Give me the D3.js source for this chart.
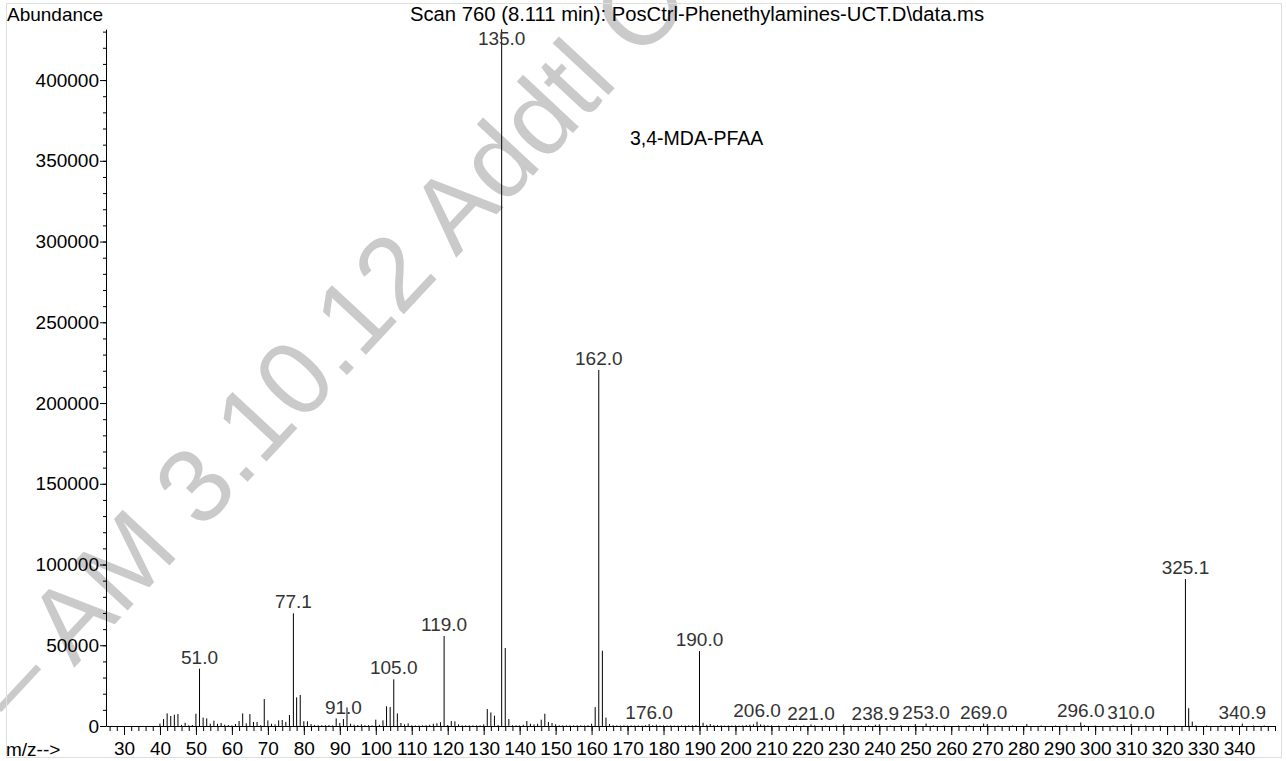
<!DOCTYPE html>
<html><head><meta charset="utf-8">
<script src="https://cdn.jsdelivr.net/npm/d3@7"></script>
<style>
body{margin:0;background:#fff;}
svg{display:block;}
text{font-family:"Liberation Sans",Arial,Helvetica,sans-serif;}
</style>
</head><body>
<svg id="chart" width="1286" height="761"></svg>
<script>
// ---- data ----
const mzValues = [40,41,42,43,44,45,46,47,48,49,50,51.0,52,53,54,55,56,57,58,59,60,61,62,63,64,65,66,67,68,69,70,71,72,73,74,75,76,77.1,78,79,80,81,82,83,84,85,86,87,88,89,90,91.0,92,93,94,95,96,97,98,99,100,101,102,103,104,105.0,106,107,108,109,110,111,112,113,114,115,116,117,118,119.0,120,121,122,123,124,125,126,127,128,129,130,131,132,133,134,135.0,136,137,138,139,140,141,142,143,144,145,146,147,148,149,150,151,152,153,154,155,156,157,158,159,160,161,162.0,163,164,165,166,167,168,169,170,171,172,173,174,175,176.0,177,178,179,180,181,182,183,184,185,186,187,188,189,190.0,191,192,193,194,195,196,197,198,199,200,201,202,203,204,205,206.0,207,208,209,210,212,215,217,219,221.0,222,225,228,230,232,235,237,238.9,240,243,246,250,253.0,255,258,262,265,269.0,270,273,277,281,285,289,292,296.0,297,300,305,308,310.0,314,318,322,325.1,326,327,328,331,335,338,340.9,344,347];
const abundances = [1500,4300,7800,6200,7000,7400,700,2000,500,600,7600,35500,5200,4700,1400,3300,1400,1850,800,600,400,1200,3100,7800,1650,7400,2500,2500,500,16700,3500,1400,1000,3500,3700,2500,6800,69800,17700,19200,2900,2900,1200,600,500,500,500,500,400,4700,1850,4300,11500,1400,800,600,1000,500,500,400,3900,800,3500,12200,11700,28900,7800,1850,1000,1650,400,400,300,400,500,800,1400,1650,2300,55700,600,3100,2900,1000,400,400,400,400,400,400,1000,10500,8400,6400,600,431500,48300,4300,500,400,400,800,3100,1400,1000,1400,3900,7600,2500,1850,1000,400,400,400,400,400,400,400,400,500,1400,11700,220500,46600,5200,1200,500,400,300,400,300,400,300,400,300,500,1200,500,800,300,400,300,400,300,300,400,300,400,500,600,46400,2000,700,1200,600,500,400,300,400,300,400,300,400,600,800,1000,2700,1000,700,400,500,300,400,300,400,900,400,300,300,1000,300,300,400,800,1000,300,400,1200,1500,400,300,300,400,1500,1200,300,300,1200,300,300,400,2200,500,300,300,400,1300,300,300,300,91000,11000,2700,400,300,300,300,1500,300,300];
const labelTexts = ["51.0","77.1","91.0","105.0","119.0","135.0","162.0","176.0","190.0","206.0","221.0","238.9","253.0","269.0","296.0","310.0","325.1","340.9"];
const labelMz = [51.0,77.1,91.0,105.0,119.0,135.0,162.0,176.0,190.0,206.0,221.0,238.9,253.0,269.0,296.0,310.0,325.1,340.9];
const xMajorTicks = d3.range(30, 341, 10);
const xMinorTicks = d3.range(26, 351, 2);
const yMajorTicks = d3.range(0, 400001, 50000);
const yMinorTicks = d3.range(0, 431001, 10000);
const xDomain = [25, 350];
const yDomain = [0, 431500];
const titleText = "Scan 760 (8.111 min): PosCtrl-Phenethylamines-UCT.D\\data.ms";
const compoundText = "3,4-MDA-PFAA";
const yAxisTitle = "Abundance";
const xAxisTitle = "m/z-->";
const watermarkText = "DOC – AM 3.10.12 Addtl C";

// ---- drawing ----
const svg = d3.select("#chart");
const FS = 19;

// watermark (behind everything)
svg.append("text")
  .attr("transform", "translate(265,463) rotate(-47)")
  .attr("text-anchor", "middle")
  .attr("font-size", 105)
  .attr("fill", "#cacaca")
  .text(watermarkText);

// frame
svg.append("rect").attr("x", 6.5).attr("y", 3.5).attr("width", 1275).attr("height", 754)
  .attr("fill", "none").attr("stroke", "#dedede").attr("stroke-width", 1);

const x = d3.scaleLinear().domain(xDomain).range([106, 1275]);
const y = d3.scaleLinear().domain(yDomain).range([726, 29.2]);

const peaks = mzValues.map((m, i) => ({mz: m, v: abundances[i]}));

// peaks
svg.append("g").selectAll("line").data(peaks).join("line")
  .attr("x1", d => x(d.mz)).attr("x2", d => x(d.mz))
  .attr("y1", y(0)).attr("y2", d => y(d.v))
  .attr("stroke", "#000").attr("stroke-width", 1);

// x axis minor
const gxm = svg.append("g").attr("transform", `translate(0,${y(0)})`)
  .call(d3.axisBottom(x).tickValues(xMinorTicks).tickSize(5).tickSizeOuter(0).tickFormat(""));
gxm.select(".domain").remove();
// x axis major
const gx = svg.append("g").attr("transform", `translate(0,${y(0)})`)
  .call(d3.axisBottom(x).tickValues(xMajorTicks).tickSize(9).tickSizeOuter(0).tickPadding(7).tickFormat(d3.format("d")));
gx.selectAll("text").attr("font-size", FS).attr("font-family", null).attr("fill", "#000");
gx.selectAll("line,path").attr("stroke", "#000");

// y axis minor
const gym = svg.append("g").attr("transform", `translate(${x(xDomain[0])},0)`)
  .call(d3.axisLeft(y).tickValues(yMinorTicks).tickSize(3).tickSizeOuter(0).tickFormat(""));
gym.select(".domain").remove();
// y axis major
const gy = svg.append("g").attr("transform", `translate(${x(xDomain[0])},0)`)
  .call(d3.axisLeft(y).tickValues(yMajorTicks).tickSize(6).tickSizeOuter(0).tickPadding(1).tickFormat(d3.format("d")));
gy.selectAll("text").attr("font-size", FS).attr("font-family", null).attr("fill", "#000");
gy.selectAll("line,path").attr("stroke", "#000");

// peak labels
const labelData = labelTexts.map((t, i) => {
  const m = labelMz[i];
  const p = peaks.find(d => Math.abs(d.mz - m) < 0.05);
  return {t, m, v: p ? p.v : 0};
});
svg.append("g").selectAll("text").data(labelData).join("text")
  .attr("x", d => x(d.m))
  .attr("y", d => Math.max(y(d.v) - 5, 45))
  .attr("text-anchor", "middle")
  .attr("font-size", FS)
  .attr("fill", "#333")
  .text(d => d.t);

// titles
svg.append("text").attr("x", 7).attr("y", 21).attr("font-size", FS).attr("fill", "#000").text(yAxisTitle);
svg.append("text").attr("x", 410).attr("y", 21).attr("font-size", 20).attr("fill", "#000")
  .attr("textLength", 574).attr("lengthAdjust", "spacingAndGlyphs").text(titleText);
svg.append("text").attr("x", 630).attr("y", 145).attr("font-size", 19.5).attr("fill", "#000").text(compoundText);
svg.append("text").attr("x", 6).attr("y", 756).attr("font-size", FS).attr("fill", "#000").text(xAxisTitle);
</script>
</body></html>
